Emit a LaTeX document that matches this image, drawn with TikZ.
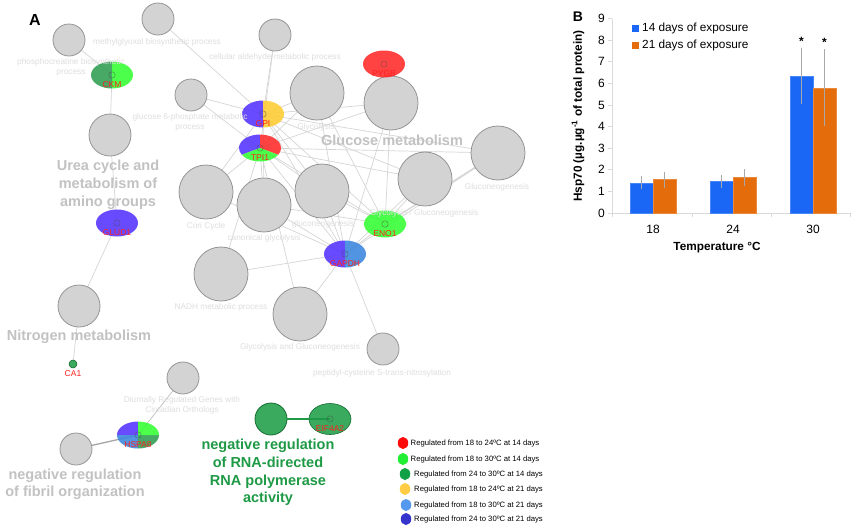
\documentclass[tikz,border=0pt]{standalone}
\usepackage{fontspec}
\setmainfont{Liberation Sans}
\usetikzlibrary{shapes.geometric}
\pgfdeclarelayer{bg}
\pgfsetlayers{bg,main}
\definecolor{gfill}{HTML}{D3D3D3}
\definecolor{gdraw}{HTML}{959595}
\definecolor{edgec}{HTML}{D6D6D6}
\definecolor{lbl}{HTML}{DEDEDE}
\definecolor{biglbl}{HTML}{C2C2C2}
\definecolor{cred}{HTML}{FF2A2A}
\definecolor{clgreen}{HTML}{33FF33}
\definecolor{cdgreen}{HTML}{2E9E50}
\definecolor{cyellow}{HTML}{FFCC33}
\definecolor{clblue}{HTML}{3A86DD}
\definecolor{cdblue}{HTML}{5533FF}
\definecolor{genetxt}{HTML}{FF1F1F}
\definecolor{termgreen}{HTML}{1E9A46}
\definecolor{nodegreen}{HTML}{3AAA5E}
\definecolor{lred}{HTML}{FF0A0A}
\definecolor{llgreen}{HTML}{22EE33}
\definecolor{ldgreen}{HTML}{10A045}
\definecolor{lyellow}{HTML}{FFCC44}
\definecolor{llblue}{HTML}{5599EE}
\definecolor{ldblue}{HTML}{3535CC}
\definecolor{barblue}{HTML}{1A66F5}
\definecolor{barorange}{HTML}{E46C0A}
\definecolor{axisc}{HTML}{D9D9D9}
\definecolor{errc}{HTML}{A8A8A8}
\newcommand{\gsector}[4]{\fill[#4, fill opacity=0.88] (#1.center) -- ++(#2:21pt and 13.5pt) arc[start angle=#2, end angle=#3, x radius=21pt, y radius=13.5pt] -- cycle;}
\newcommand{\gmark}[1]{\draw[black!70, line width=0.5pt, opacity=0.6] (#1.center) circle[radius=3.2pt];}
\tikzset{
  term/.style={circle, fill=gfill, draw=gdraw, line width=0.8pt, inner sep=0pt},
  tsmall/.style={term, minimum size=32pt},
  tmid/.style={term, minimum size=42pt},
  tbig/.style={term, minimum size=54pt},
  gene/.style={ellipse, minimum width=42pt, minimum height=27pt, inner sep=0pt},
  lab/.style={text=lbl, font=\fontsize{8.3}{10.5}\selectfont, align=center, inner sep=0pt},
  bigl/.style={text=biglbl, font=\fontsize{14.5}{18}\selectfont\bfseries, align=center, inner sep=0pt},
  genel/.style={text=genetxt, font=\fontsize{8.5}{10}\selectfont, inner sep=0pt},
  edge/.style={draw=edgec, line width=0.7pt},
  legdot/.style={ellipse, minimum width=10.5pt, minimum height=12pt, inner sep=0pt},
  legtxt/.style={font=\fontsize{7.7}{9}\selectfont, anchor=west, inner sep=0pt},
  tick/.style={font=\fontsize{12}{14}\selectfont, inner sep=0pt},
  bar/.style={draw=#1!80!white, fill=#1, line width=0.4pt},
  err/.style={draw=errc, line width=0.6pt}
}
\begin{document}
\begin{tikzpicture}[x=1pt,y=1pt]
\useasboundingbox (0,0) rectangle (856,-528);

% panel letters
\node[font=\fontsize{16}{18}\selectfont\bfseries] (A) at (35,-20) {A};
\node[font=\fontsize{14}{16}\selectfont\bfseries] (B) at (578,-17) {B};

% grey term nodes
\node[tsmall] (g1) at (69,-40) {};
\node[tsmall] (g2) at (158,-19) {};
\node[tsmall] (g3) at (275,-35) {};
\node[tsmall] (g4) at (191,-95) {};
\node[tmid] (g5) at (110,-135) {};
\node[tbig] (g6) at (317,-93) {};
\node[tbig] (g7) at (391,-103) {};
\node[tbig] (g8) at (498,-153) {};
\node[tbig] (g9) at (425,-179) {};
\node[tbig] (g10) at (322,-191) {};
\node[tbig] (g11) at (206,-192) {};
\node[tbig] (g12) at (264,-205) {};
\node[tbig] (g13) at (221,-274) {};
\node[tbig] (g14) at (300,-314) {};
\node[tsmall] (g15) at (383,-349) {};
\node[tsmall] (g16) at (183,-378) {};
\node[tsmall] (g17) at (76,-449) {};
\node[tmid] (g18) at (79,-306) {};
\node[circle, fill=nodegreen, draw=termgreen!70!black, line width=0.8pt, minimum size=32pt, inner sep=0pt] (gg) at (271,-419) {};

% gene nodes
\node[gene] (CKM) at (112,-75) {};
\node[gene] (GPI) at (263,-114) {};
\node[gene] (TPI1) at (260,-148) {};
\node[gene] (PYGB) at (384,-64) {};
\node[gene] (ENO1) at (385,-224) {};
\node[gene] (GAPDH) at (345,-254) {};
\node[gene] (GLUD1) at (117,-223) {};
\node[circle, minimum size=8pt, inner sep=0pt, fill=nodegreen, draw=termgreen!60!black, line width=0.5pt] (CA1) at (73,-364) {};
\node[gene] (HSPA8) at (138,-435) {};
\node[ellipse, minimum width=42pt, minimum height=31pt, inner sep=0pt, fill=nodegreen, draw=termgreen!70!black, line width=0.6pt] (EIF4A2) at (330,-419) {};

% background and edges
\begin{pgfonlayer}{bg}
\fill[white] (0,0) rectangle (856,-528);
\foreach \a/\b in {g1/CKM, CKM/g5, g5/GLUD1, GLUD1/g18, g18/CA1, g2/GPI, g3/GPI, g3/TPI1, g4/GPI, g4/TPI1,
  GPI/g6, GPI/g7, GPI/g8, GPI/g9, GPI/g10, GPI/g11, GPI/g12, GPI/ENO1, GPI/GAPDH,
  TPI1/g6, TPI1/g7, TPI1/g8, TPI1/g9, TPI1/g10, TPI1/g11, TPI1/g12, TPI1/g13, TPI1/g14, TPI1/GAPDH, TPI1/ENO1,
  ENO1/g6, ENO1/g7, ENO1/g8, ENO1/g9, ENO1/g10, ENO1/g12, ENO1/GAPDH,
  GAPDH/g6, GAPDH/g7, GAPDH/g8, GAPDH/g9, GAPDH/g10, GAPDH/g11, GAPDH/g12, GAPDH/g13, GAPDH/g14, GAPDH/g15}
  \draw[edge] (\a.center) -- (\b.center);
\draw[edge, line width=1.2pt] (ENO1.center) -- (g8.center);
\draw[draw=black!35, line width=1.3pt] (HSPA8.center) -- (g17.center);
\draw[edge, draw=black!25] (HSPA8.center) -- (g16.center);
\end{pgfonlayer}
\draw[termgreen, line width=2pt] (gg.east) -- (EIF4A2.center);

% gene fills
\gsector{CKM}{90}{270}{cdgreen}
\gsector{CKM}{-90}{90}{clgreen}
\gsector{GPI}{90}{270}{cdblue}
\gsector{GPI}{-90}{90}{cyellow}
\gsector{TPI1}{90}{210}{cdblue}
\gsector{TPI1}{-30}{90}{cred}
\gsector{TPI1}{210}{330}{clgreen}
\gsector{PYGB}{0}{360}{cred}
\gsector{ENO1}{0}{360}{clgreen}
\gsector{GAPDH}{90}{270}{cdblue}
\gsector{GAPDH}{-90}{90}{clblue}
\gsector{GLUD1}{0}{360}{cdblue}
\gsector{HSPA8}{90}{180}{cdblue}
\gsector{HSPA8}{180}{270}{clblue}
\gsector{HSPA8}{270}{360}{cdgreen}
\gsector{HSPA8}{0}{90}{clgreen}
\foreach \n in {CKM,GPI,TPI1,PYGB,ENO1,GAPDH,GLUD1,HSPA8,EIF4A2} {\gmark{\n}}

% gene labels
\node[genel] (CKMl) at (112,-84.5) {CKM};
\node[genel] (GPIl) at (263,-124) {GPI};
\node[genel] (TPI1l) at (260,-157.5) {TPI1};
\node[genel] (PYGBl) at (384,-74) {PYGB};
\node[genel] (ENO1l) at (385,-234) {ENO1};
\node[genel] (GAPDHl) at (345,-263.5) {GAPDH};
\node[genel] (GLUD1l) at (117,-232.5) {GLUD1};
\node[genel] (CA1l) at (73,-374) {CA1};
\node[genel] (HSPA8l) at (138,-444.5) {HSPA8};
\node[genel] (EIF4A2l) at (330,-428.5) {EIF4A2};

% small term labels
\node[lab] (t1) at (71,-67.5) {phosphocreatine biosynthetic\\process};
\node[lab] (t2) at (157,-42) {methylglyoxal biosynthetic process};
\node[lab] (t3) at (275,-57) {cellular aldehyde metabolic process};
\node[lab] (t4) at (190,-122.5) {glucose 6-phosphate metabolic\\process};
\node[lab] (t6) at (316,-127) {Glycolysis};
\node[lab] (t8) at (497,-187) {Gluconeogenesis};
\node[lab] (t9) at (424,-213) {Glycolysis / Gluconeogenesis};
\node[lab] (t10) at (323,-224) {gluconeogenesis};
\node[lab] (t11) at (206,-226) {Cori Cycle};
\node[lab] (t12) at (264,-238) {canonical glycolysis};
\node[lab] (t13) at (221,-307) {NADH metabolic process};
\node[lab] (t14) at (300,-347) {Glycolysis and Gluconeogenesis};
\node[lab] (t15) at (382,-373) {peptidyl-cysteine S-trans-nitrosylation};
\node[lab] (t16) at (182,-405.5) {Diurnally Regulated Genes with\\Circadian Orthologs};

% big cluster labels
\node[bigl] (b1) at (108,-185) {Urea cycle and\\metabolism of\\amino groups};
\node[bigl] (b2) at (392,-140) {Glucose metabolism};
\node[bigl] (b3) at (79,-337) {Nitrogen metabolism};
\node[bigl, font=\fontsize{14.5}{17}\selectfont\bfseries] (b4) at (75,-484.5) {negative regulation\\of fibril organization};
\node[bigl, text=termgreen, font=\fontsize{14.5}{17.7}\selectfont\bfseries] (b5) at (268,-472.5) {negative regulation\\of RNA-directed\\RNA polymerase\\activity};

% legend
\node[legdot, fill=lred] (d1) at (403,-443) {};
\node[legdot, fill=llgreen] (d2) at (403,-459) {};
\node[legdot, fill=ldgreen] (d3) at (405,-474) {};
\node[legdot, fill=lyellow] (d4) at (405,-489) {};
\node[legdot, fill=llblue] (d5) at (406,-505) {};
\node[legdot, fill=ldblue] (d6) at (406,-519) {};
\node[legtxt] (e1) at (410.5,-443) {Regulated from 18 to 24ºC at 14 days};
\node[legtxt] (e2) at (410.5,-459) {Regulated from 18 to 30ºC at 14 days};
\node[legtxt] (e3) at (414,-474) {Regulated from 24 to 30ºC at 14 days};
\node[legtxt] (e4) at (414,-489) {Regulated from 18 to 24ºC at 21 days};
\node[legtxt] (e5) at (414,-505) {Regulated from 18 to 30ºC at 21 days};
\node[legtxt] (e6) at (414,-519) {Regulated from 24 to 30ºC at 21 days};

% ---------- panel B ----------
\draw[axisc, line width=0.8pt] (612,-19) -- (612,-213) -- (850,-213);
\foreach \v in {0,...,9} {
  \draw[axisc, line width=0.8pt] (608,-213+21.6*\v) -- (612,-213+21.6*\v);
  \node[tick, anchor=east] (y\v) at (605,-213+21.6*\v) {\v};
}
\foreach \xx in {612,692,771,850} \draw[axisc, line width=0.8pt] (\xx,-213) -- (\xx,-217);
\node[tick] (x18) at (653,-229) {18};
\node[tick] (x24) at (733,-229) {24};
\node[tick] (x30) at (813,-229) {30};
\node[font=\fontsize{11.8}{14}\selectfont\bfseries, inner sep=0pt] (xt) at (717,-248) {Temperature °C};
\node[font=\fontsize{11.8}{14}\selectfont\bfseries, rotate=90, inner sep=0pt] (yt) at (578,-116) {Hsp70 (µg.µg\textsuperscript{-1} of total protein)};

% bars
\draw[bar=barblue] (630,-213) rectangle (653,-213+21.6*1.40);
\draw[bar=barorange] (653,-213) rectangle (676,-213+21.6*1.55);
\draw[bar=barblue] (710,-213) rectangle (733,-213+21.6*1.45);
\draw[bar=barorange] (733,-213) rectangle (756,-213+21.6*1.68);
\draw[bar=barblue] (790,-213) rectangle (813,-213+21.6*6.34);
\draw[bar=barorange] (813,-213) rectangle (836,-213+21.6*5.80);
% error bars
\draw[err] (641.5,-213+21.6*1.10) -- (641.5,-213+21.6*1.70);
\draw[err] (664.5,-213+21.6*1.15) -- (664.5,-213+21.6*1.90);
\draw[err] (721.5,-213+21.6*1.15) -- (721.5,-213+21.6*1.76);
\draw[err] (744.5,-213+21.6*1.26) -- (744.5,-213+21.6*2.04);
\draw[err] (801.5,-213+21.6*5.04) -- (801.5,-213+21.6*7.65);
\draw[err] (824.5,-213+21.6*4.03) -- (824.5,-213+21.6*7.60);
\node[font=\fontsize{12}{14}\selectfont\bfseries, inner sep=0pt] (s1) at (801.5,-41) {*};
\node[font=\fontsize{12}{14}\selectfont\bfseries, inner sep=0pt] (s2) at (824.5,-42) {*};

% chart legend
\fill[barblue] (631.5,-24.5) rectangle (639,-32);
\fill[barorange] (631.5,-41.5) rectangle (639,-49);
\node[font=\fontsize{11.8}{14}\selectfont, anchor=west, inner sep=0pt] (k1) at (642,-28.5) {14 days of exposure};
\node[font=\fontsize{11.8}{14}\selectfont, anchor=west, inner sep=0pt] (k2) at (642,-45.5) {21 days of exposure};
\end{tikzpicture}
\end{document}
